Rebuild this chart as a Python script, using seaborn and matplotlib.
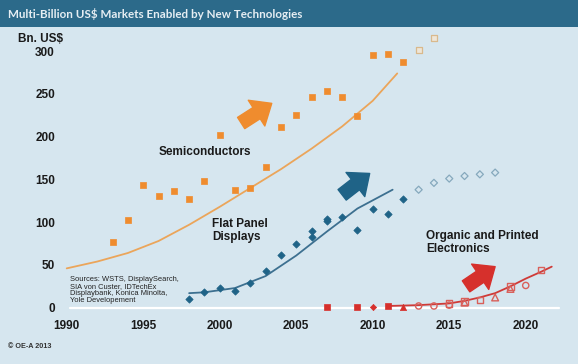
import numpy as np
import pandas as pd
import matplotlib
matplotlib.use("Agg")
import matplotlib.pyplot as plt
from matplotlib.patches import Rectangle
import seaborn as sns

# ==========================================
# 데이터
# ==========================================
semi_years = list(range(1993, 2013))
semi_values = [77, 102, 143, 131, 136, 127, 148, 202, 138, 140, 165, 211, 225, 246, 253, 246, 224, 296, 297, 287]
semi_fc_years = [2013, 2014]
semi_fc_values = [301, 316]
semi_trend_years = [1990, 1992, 1994, 1996, 1998, 2000, 2002, 2004, 2006, 2008, 2010, 2011.6]
semi_trend_values = [46, 54, 64, 78, 97, 118, 140, 162, 186, 212, 242, 274]

fpd_years = [1998, 1999, 2000, 2001, 2002, 2003, 2004, 2005, 2006, 2006, 2007, 2007, 2008, 2009, 2010, 2011, 2012]
fpd_values = [10, 18, 23, 20, 29, 43, 62, 74, 83, 90, 101, 104, 106, 91, 116, 110, 127]
fpd_fc_years = [2013, 2014, 2015, 2016, 2017, 2018]
fpd_fc_values = [138, 146, 151, 154, 156, 158]
fpd_trend_years = [1998, 1999, 2001, 2003, 2005, 2007, 2009, 2011.3]
fpd_trend_values = [17, 18, 23, 37, 61, 89, 116, 138]

ope_sq_years = [2007, 2009, 2011]
ope_sq_values = [1, 1, 2]
ope_dia_years = [2010]
ope_dia_values = [0.3]
ope_tri_years = [2012]
ope_tri_values = [1]
ope_fc_circ_years = [2013, 2014, 2015, 2020]
ope_fc_circ_values = [2, 2, 3, 26]
ope_fc_sq_years = [2015, 2016, 2017, 2019, 2021]
ope_fc_sq_values = [5, 7, 9, 25, 44]
ope_fc_tri_years = [2016, 2018, 2019]
ope_fc_tri_values = [6, 12, 22]
ope_trend_years = [2011, 2013, 2015, 2016, 2017, 2018, 2019, 2020, 2021, 2021.7]
ope_trend_values = [2, 3, 5, 8, 12, 17, 25, 34, 42, 48]

x_ticks = [1990, 1995, 2000, 2005, 2010, 2015, 2020]
y_ticks = [0, 50, 100, 150, 200, 250, 300]

# 색상
BG = '#d6e6ef'
BAR = '#2c6a8a'
ORANGE = '#ef8c2e'
BLUE = '#1f6387'
RED = '#d6302c'

# ==========================================
# 그림 설정
# ==========================================
sns.set_style('white')
plt.rcParams['font.family'] = ['Liberation Sans', 'DejaVu Sans']

fig = plt.figure(figsize=(5.78, 3.64), dpi=100)
fig.patch.set_facecolor(BG)
ax = fig.add_axes([0.1022, 0.1312, 0.8868, 0.7751])
ax.set_facecolor(BG)

# 상단 제목 바
fig.patches.append(Rectangle((0, 1 - 27 / 364), 1, 27 / 364, transform=fig.transFigure,
                             facecolor=BAR, edgecolor='none', zorder=0))
fig.text(8 / 578, 1 - 14 / 364, 'Multi-Billion US$ Markets Enabled by New Technologies',
         color='#e6eef3', fontsize=8.4, fontweight='bold', family=['Lato', 'DejaVu Sans'],
         va='center', ha='left')

# 0 기준선
ax.plot([1990.2, 2022.2], [0, 0], color='white', lw=1.6, zorder=1)

# 추세선
sns.lineplot(x=semi_trend_years, y=semi_trend_values, color='#eba55a', lw=1.3, ax=ax, zorder=2)
sns.lineplot(x=fpd_trend_years, y=fpd_trend_values, color='#3d7090', lw=1.3, ax=ax, zorder=2)
sns.lineplot(x=ope_trend_years, y=ope_trend_values, color='#cf3b38', lw=1.3, ax=ax, zorder=2)

# Semiconductors
sns.scatterplot(x=semi_years, y=semi_values, marker='s', s=22, color=ORANGE, edgecolor=ORANGE,
                linewidth=0.5, ax=ax, zorder=3)
sns.scatterplot(x=semi_fc_years, y=semi_fc_values, marker='s', s=22, facecolor='#eee6d8',
                edgecolor='#d9b98c', linewidth=0.9, ax=ax, zorder=3)

# Flat Panel Displays
sns.scatterplot(x=fpd_years, y=fpd_values, marker='D', s=14, color=BLUE, edgecolor=BLUE,
                linewidth=0.5, ax=ax, zorder=3)
sns.scatterplot(x=fpd_fc_years, y=fpd_fc_values, marker='D', s=13, facecolor='none',
                edgecolor='#86a9bd', linewidth=0.9, ax=ax, zorder=3)

# Organic and Printed Electronics
sns.scatterplot(x=ope_sq_years, y=ope_sq_values, marker='s', s=20, color=RED, edgecolor=RED,
                linewidth=0.5, ax=ax, zorder=3)
sns.scatterplot(x=ope_dia_years, y=ope_dia_values, marker='D', s=10, color=RED, edgecolor=RED,
                linewidth=0.5, ax=ax, zorder=3)
sns.scatterplot(x=ope_tri_years, y=ope_tri_values, marker='^', s=20, color=RED, edgecolor=RED,
                linewidth=0.5, ax=ax, zorder=3)
sns.scatterplot(x=ope_fc_circ_years, y=ope_fc_circ_values, marker='o', s=20, facecolor='none',
                edgecolor='#d9605a', linewidth=1.0, ax=ax, zorder=3)
sns.scatterplot(x=ope_fc_sq_years, y=ope_fc_sq_values, marker='s', s=22, facecolor='none',
                edgecolor='#d9605a', linewidth=1.0, ax=ax, zorder=3)
sns.scatterplot(x=ope_fc_tri_years, y=ope_fc_tri_values, marker='^', s=24, facecolor='none',
                edgecolor='#d9605a', linewidth=1.0, ax=ax, zorder=3)

# 굵은 화살표
arrow_style = 'simple,head_length=0.65,head_width=1.1,tail_width=0.48'
for (x0, y0), (x1, y1), c in [((2001.4, 216), (2003.4, 239), ORANGE),
                              ((2008.0, 132), (2009.8, 157), BLUE),
                              ((2016.1, 25), (2018.0, 48), RED)]:
    ax.annotate('', xy=(x1, y1), xytext=(x0, y0),
                arrowprops=dict(arrowstyle=arrow_style, color=c, mutation_scale=20,
                                shrinkA=0, shrinkB=0), zorder=4)

# 텍스트 라벨
ax.text(1999.0, 182.5, 'Semiconductors', fontsize=8.5, fontweight='bold', ha='center', va='center',
        color='#1a1a1a')
ax.text(1999.5, 105, 'Flat Panel\nDisplays', fontsize=8.5, fontweight='bold', ha='left', va='top',
        color='#1a1a1a', linespacing=1.15)
ax.text(2013.5, 91, 'Organic and Printed\nElectronics', fontsize=8.5, fontweight='bold', ha='left',
        va='top', color='#1a1a1a', linespacing=1.15)
ax.text(1990.2, 37, 'Sources: WSTS, DisplaySearch,\nSIA von Custer, IDTechEx\n'
        'Displaybank, Konica Minolta,\nYole Developement',
        fontsize=5.4, ha='left', va='top', color='#222222', linespacing=1.0)

# 축
ax.set_xlim(1989.5, 2023)
ax.set_ylim(-10, 320)
ax.set_xticks(x_ticks)
ax.set_yticks(y_ticks)
ax.set_xticklabels([str(t) for t in x_ticks], fontweight='bold', fontsize=8.5, color='#1a1a1a')
ax.set_yticklabels([str(t) for t in y_ticks], fontweight='bold', fontsize=8.5, color='#1a1a1a')
ax.tick_params(axis='both', length=0)
ax.tick_params(axis='y', pad=3)
ax.tick_params(axis='x', pad=3)
ax.set_xlabel('')
ax.set_ylabel('')
for sp in ax.spines.values():
    sp.set_visible(False)

fig.text(18 / 578, 1 - 39 / 364, 'Bn. US$', fontsize=8.5, fontweight='bold', color='#1a1a1a',
         ha='left', va='center')
fig.text(8 / 578, 1 - 347 / 364, '\u00a9 OE-A 2013', fontsize=5.2, fontweight='bold', color='#333333',
         ha='left', va='center')

fig.savefig('out.png', dpi=100, facecolor=BG)
